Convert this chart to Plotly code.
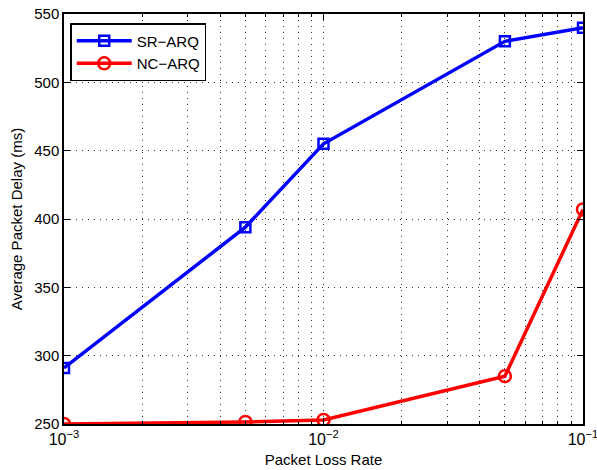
import plotly.graph_objects as go

loss_rate = [1e-3, 5e-3, 1e-2, 5e-2, 1e-1]
sr_arq = [291, 394, 455, 530, 540]
nc_arq = [250, 251.5, 253, 285, 407]
x_tickvals = [1e-3, 1e-2, 1e-1]
x_ticktext = ["10<sup>−3</sup>", "10<sup>−2</sup>", "10<sup>−1</sup>"]
x_minorvals = [m * d for d in (1e-3, 1e-2) for m in range(2, 10)]
y_tickvals = [250, 300, 350, 400, 450, 500, 550]

fig = go.Figure()
fig.add_trace(go.Scatter(x=loss_rate, y=sr_arq, name="SR−ARQ", mode="lines+markers",
                         line=dict(color="#0000ff", width=3.5),
                         marker=dict(symbol="square-open", size=10, color="#0000ff",
                                     line=dict(width=2.5, color="#0000ff"))))
fig.add_trace(go.Scatter(x=loss_rate, y=nc_arq, name="NC−ARQ", mode="lines+markers",
                         line=dict(color="#ff0000", width=3.5),
                         marker=dict(symbol="circle-open", size=12, color="#ff0000",
                                     line=dict(width=2.5, color="#ff0000"))))

grid_dash = "1px,5px"
axis_font = dict(family="Liberation Sans, Arial, sans-serif", size=14, color="black")
fig.update_layout(
    width=597, height=470,
    margin=dict(l=64, r=14, t=14, b=46),
    paper_bgcolor="white", plot_bgcolor="white",
    font=axis_font,
    showlegend=True,
    legend=dict(x=0.012, y=0.978, xanchor="left", yanchor="top",
                bordercolor="black", borderwidth=1.5, bgcolor="white",
                font=dict(family="Liberation Sans, Arial, sans-serif", size=15),
                itemwidth=55, tracegroupgap=2),
    xaxis=dict(type="log", range=[-3, -1], tickmode="array",
               tickvals=x_tickvals, ticktext=x_ticktext, automargin=False,
               ticklabeloverflow="allow",
               showline=True, linecolor="black", linewidth=1.5, mirror="ticks",
               ticks="inside", ticklen=6, tickcolor="black",
               showgrid=True, gridcolor="#333333", griddash=grid_dash, gridwidth=1,
               minor=dict(tickmode="array", tickvals=x_minorvals, showgrid=True,
                          gridcolor="#333333", griddash=grid_dash, gridwidth=1,
                          ticks="inside", ticklen=3, tickcolor="black"),
               title=dict(text="Packet Loss Rate", font=dict(size=15), standoff=8),
               tickfont=dict(size=16), zeroline=False),
    yaxis=dict(range=[250, 550], tickvals=y_tickvals, automargin=False,
               showline=True, linecolor="black", linewidth=1.5, mirror="ticks",
               ticks="inside", ticklen=6, tickcolor="black",
               showgrid=True, gridcolor="#333333", griddash=grid_dash, gridwidth=1,
               title=dict(text="Average Packet Delay (ms)", font=dict(size=15), standoff=8),
               tickfont=dict(size=15), zeroline=False),
)
fig.write_html("out.html", config={"displayModeBar": False},
               post_script="document.body.style.margin='0';document.body.style.overflow='hidden';")
